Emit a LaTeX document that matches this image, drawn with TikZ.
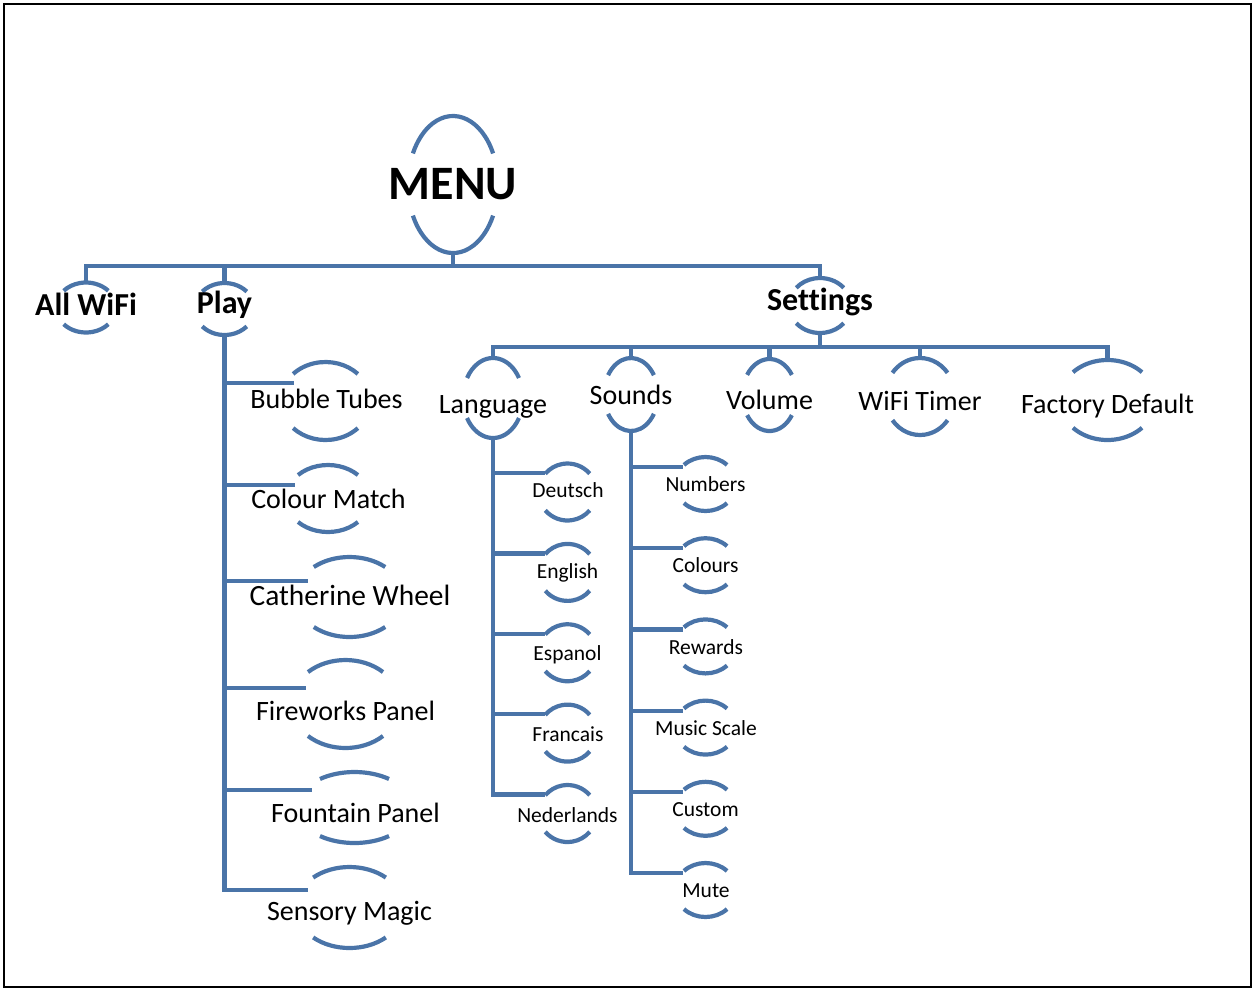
\documentclass[tikz,border=0pt]{standalone}
\usepackage{fontspec}
\setmainfont{Carlito}[Ligatures=NoCommon]
\usetikzlibrary{shapes.geometric,calc}
\definecolor{ln}{HTML}{4A74A8}
\tikzset{
  ellnode/.style={ellipse, draw=none, inner sep=0pt, outer sep=0pt},
  arcl/.style={draw=ln, line width=4.2pt},
  conn/.style={draw=ln, line width=4.2pt},
  lblT/.style={font=\fontsize{48}{56}\selectfont\bfseries, anchor=base, inner sep=0pt},
  lblB/.style={font=\fontsize{32}{38}\selectfont\bfseries, anchor=base, inner sep=0pt},
  lblM/.style={font=\fontsize{28}{34}\selectfont, anchor=base, inner sep=0pt},
  lblS/.style={font=\fontsize{21.5}{26}\selectfont, anchor=base, inner sep=0pt},
}
% #1 name, #2 cx, #3 cy (from top), #4 rx, #5 ry, #6 angle
\newcommand\bnode[6]{%
  \node[ellnode, minimum width={2*#4pt}, minimum height={2*#5pt}] (#1) at (#2,-#3) {};
  \draw[arcl] ($(#1.center)+(#6:#4pt and #5pt)$) arc[start angle=#6, end angle={180-#6}, x radius=#4pt, y radius=#5pt];
  \draw[arcl] ($(#1.center)+({180+#6}:#4pt and #5pt)$) arc[start angle={180+#6}, end angle={360-#6}, x radius=#4pt, y radius=#5pt];
}
\begin{document}
\begin{tikzpicture}[x=1pt,y=1pt]
\useasboundingbox (0,0) rectangle (1255,-989);
\draw[black, line width=2pt] (4,-4) rectangle (1250.5,-987);

% top level
\bnode{menu}{453}{184.5}{45}{68.5}{27}
\node[lblT] (menu-t) at (453,-199) {MENU};
\bnode{wifi}{86}{307.5}{30}{25}{42}
\node[lblB] (wifi-t) at (86,-315) {All WiFi};
\bnode{play}{224.5}{309}{30}{26}{42}
\node[lblB] (play-t) at (224.5,-313) {Play};
\bnode{set}{820}{305.5}{31}{27.5}{40}
\node[lblB] (set-t) at (820,-310) {Settings};

% settings children
\bnode{lang}{493}{398}{30}{40}{30}
\node[lblM] (lang-t) at (493,-413) {Language};
\bnode{snd}{631}{394.5}{27}{36.5}{32}
\node[lblM] (snd-t) at (631,-404) {Sounds};
\bnode{vol}{769.5}{395}{27}{36}{34}
\node[lblM] (vol-t) at (769.5,-409) {Volume};
\bnode{wt}{920}{396.5}{35}{38.5}{38}
\node[lblM] (wt-t) at (920,-410) {WiFi Timer};
\bnode{fd}{1107.5}{400}{48}{40}{44}
\node[lblM] (fd-t) at (1107.5,-413) {Factory Default};

% play children
\bnode{bt}{325.5}{401}{45}{39}{44}
\node[lblM] (bt-t) at (326.5,-408) {Bubble Tubes};
\bnode{cm}{328}{498.5}{42}{33.5}{44.5}
\node[lblM] (cm-t) at (328.5,-508) {Colour Match};
\bnode{cw}{349.5}{597}{54}{40}{48.6}
\node[lblM, font=\fontsize{29.4}{35}\selectfont] (cw-t) at (350,-605.5) {Catherine Wheel};
\bnode{fp}{345.5}{704}{54.6}{44}{46.6}
\node[lblM] (fp-t) at (345.5,-720) {Fireworks Panel};
\bnode{fo}{354.5}{807.5}{58}{35.5}{53.5}
\node[lblM] (fo-t) at (355.5,-822) {Fountain Panel};
\bnode{sm}{349.5}{907.5}{54}{40.5}{47.7}
\node[lblM] (sm-t) at (349.5,-920) {Sensory Magic};

% language children
\bnode{de}{567.5}{492}{29}{28.5}{40}
\node[lblS] (de-t) at (568,-497.3) {Deutsch};
\bnode{en}{567.5}{572.4}{29}{28.5}{40}
\node[lblS] (en-t) at (567.5,-578.6) {English};
\bnode{es}{567.5}{652.75}{29}{28.5}{40}
\node[lblS] (es-t) at (567.5,-660) {Espanol};
\bnode{fr}{567.5}{733.1}{29}{28.5}{40}
\node[lblS] (fr-t) at (568,-741.4) {Francais};
\bnode{nl}{567.5}{813.5}{29}{28.5}{40}
\node[lblS] (nl-t) at (567.5,-822.7) {Nederlands};

% sounds children
\bnode{nu}{705.5}{484}{30.5}{27}{45}
\node[lblS] (nu-t) at (705.5,-491.7) {Numbers};
\bnode{co}{705.5}{565.2}{30.5}{27}{45}
\node[lblS] (co-t) at (705.5,-572.9) {Colours};
\bnode{re}{705.5}{646.4}{30.5}{27}{45}
\node[lblS] (re-t) at (706,-654.1) {Rewards};
\bnode{ms}{705.5}{727.6}{30.5}{27}{45}
\node[lblS] (ms-t) at (706,-735.3) {Music Scale};
\bnode{cu}{705.5}{808.8}{30.5}{27}{45}
\node[lblS] (cu-t) at (705.5,-816.5) {Custom};
\bnode{mu}{705.5}{890}{30.5}{27}{45}
\node[lblS] (mu-t) at (706,-897.7) {Mute};

% level bars
\coordinate (bar1) at (453,-266);
\draw[conn] (menu.south) -- (menu.south |- bar1);
\draw[conn] (wifi.north) |- (set.north |- bar1) -- (set.north);
\draw[conn] (play.north) -- (play.north |- bar1);

\coordinate (bar2) at (820,-347);
\draw[conn] (set.south) -- (set.south |- bar2);
\draw[conn] (lang.north) |- (fd.north |- bar2) -- (fd.north);
\foreach \n in {snd,vol,wt} \draw[conn] (\n.north) -- (\n.north |- bar2);

% play branches
\coordinate (bt-b) at ($(bt.center)+(-31.5,18)$);
\coordinate (cm-b) at ($(cm.center)+(-33,13.5)$);
\coordinate (cw-b) at ($(cw.center)+(-41.5,16)$);
\coordinate (fp-b) at ($(fp.center)+(-39.5,16)$);
\coordinate (fo-b) at ($(fo.center)+(-42.5,17.5)$);
\coordinate (sm-b) at ($(sm.center)+(-41.5,17.5)$);
\draw[conn] (play.south) |- (sm-b);
\foreach \n in {bt,cm,cw,fp,fo} \draw[conn] (play.south |- \n-b) -- (\n-b);

% language branches
\foreach \n in {de,en,es,fr,nl} \coordinate (\n-b) at ($(\n.center)+(-22.5,19)$);
\draw[conn] (lang.south) |- (nl-b);
\foreach \n in {de,en,es,fr} \draw[conn] (lang.south |- \n-b) -- (\n-b);

% sounds branches
\foreach \n in {nu,co,re,ms,cu,mu} \coordinate (\n-b) at ($(\n.center)+(-22.5,17)$);
\draw[conn] (snd.south) |- (mu-b);
\foreach \n in {nu,co,re,ms,cu} \draw[conn] (snd.south |- \n-b) -- (\n-b);
\end{tikzpicture}
\end{document}
